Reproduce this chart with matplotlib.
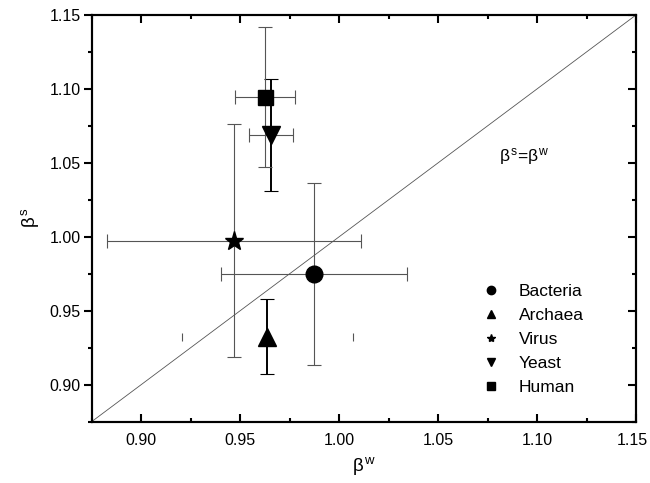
import matplotlib
matplotlib.use("Agg")
import matplotlib.pyplot as plt
from matplotlib.ticker import MultipleLocator
from matplotlib.lines import Line2D
from matplotlib.transforms import ScaledTranslation

plt.rcParams["font.family"] = ["Liberation Sans", "DejaVu Sans"]
plt.rcParams["mathtext.fontset"] = "custom"
plt.rcParams["mathtext.rm"] = "Liberation Sans"
plt.rcParams["mathtext.it"] = "Liberation Sans"

# values
groups = ["Bacteria", "Archaea", "Virus", "Yeast", "Human"]
beta_w = [0.9875, 0.9637, 0.9469, 0.9656, 0.9625]
beta_s = [0.9747, 0.9325, 0.9974, 1.0689, 1.0945]
err_w = [0.047, 0.0433, 0.064, 0.011, 0.015]
err_s = [0.0616, 0.0256, 0.079, 0.0378, 0.0476]

markers = ["o", "^", "*", "v", "s"]
msizes = [12, 13, 14, 13, 10.8]
# vertical bars of yeast and archaea are dark and heavier
ycolors = ["#555555", "black", "#555555", "black", "#555555"]
ywidths = [0.8, 1.4, 0.8, 1.4, 0.8]

fig = plt.figure(figsize=(6.5, 4.83), dpi=100)
ax = fig.add_axes([0.141, 0.127, 0.8375, 0.842])

ax.plot([0.875, 1.15], [0.875, 1.15], color="#555555", lw=0.6, zorder=1)

for i, g in enumerate(groups):
    # horizontal error bar
    eb = ax.errorbar(beta_w[i], beta_s[i], xerr=err_w[i], fmt="none",
                     ecolor="#555555", elinewidth=0.8,
                     capsize=3 if g == "Archaea" else 5,
                     capthick=0.8, zorder=2)
    if g == "Archaea":
        # only the caps of this bar show in the reference
        for col in eb[2]:
            col.set_visible(False)
    # vertical error bar
    ax.errorbar(beta_w[i], beta_s[i], yerr=err_s[i], fmt="none",
                ecolor=ycolors[i], elinewidth=ywidths[i], capsize=5,
                capthick=0.8, zorder=2)
    ax.plot(beta_w[i], beta_s[i], marker=markers[i], ms=msizes[i],
            color="black", ls="none", zorder=3)

ax.text(1.081, 1.054, r"$\beta^s\!=\!\beta^w$", fontsize=12.5,
        ha="left", va="center")

ax.set_xlim(0.875, 1.15)
ax.set_ylim(0.875, 1.15)
for a in (ax.xaxis, ax.yaxis):
    a.set_major_locator(MultipleLocator(0.05))
    a.set_minor_locator(MultipleLocator(0.025))
ax.xaxis.set_major_formatter(lambda v, p: f"{v:.2f}")
ax.yaxis.set_major_formatter(lambda v, p: f"{v:.2f}")

ax.tick_params(axis="x", which="both", direction="in", top=True,
               labelsize=11.5, pad=8)
ax.tick_params(axis="y", which="both", direction="out", left=True,
               right=False, labelsize=11.5, pad=2)
ax.tick_params(which="major", length=6, width=1.5)
ax.tick_params(which="minor", length=3, width=1.5)
# right spine ticks point inward
ax2 = ax.twinx()
ax2.set_ylim(ax.get_ylim())
ax2.yaxis.set_major_locator(MultipleLocator(0.05))
ax2.yaxis.set_minor_locator(MultipleLocator(0.025))
ax2.tick_params(axis="y", which="both", direction="in", labelright=False)
ax2.tick_params(which="major", length=6, width=1.5)
ax2.tick_params(which="minor", length=3, width=1.5)

for a in (ax, ax2):
    for s in a.spines.values():
        s.set_linewidth(1.5)

ax.set_xlabel(r"$\beta^w$", fontsize=13.5, labelpad=5)
ax.set_ylabel(r"$\beta^s$", fontsize=13.5, labelpad=6)

handles = [Line2D([], [], marker=m, ls="none", color="black", ms=6)
           for m in markers]
ax.legend(handles, groups, loc="upper left", bbox_to_anchor=(0.705, 0.355),
          frameon=False, fontsize=12.5, labelspacing=0.5, handlelength=1,
          handletextpad=1.1, borderaxespad=0)

# nudge the 1.15 x tick label so it stays inside the picture
fig.canvas.draw()
for t in ax.xaxis.get_major_ticks():
    if t.label1.get_text() == "1.15":
        t.label1.set_transform(t.label1.get_transform()
                               + ScaledTranslation(-3 / 72, 0,
                                                   fig.dpi_scale_trans))

fig.savefig("out.png", dpi=100)
